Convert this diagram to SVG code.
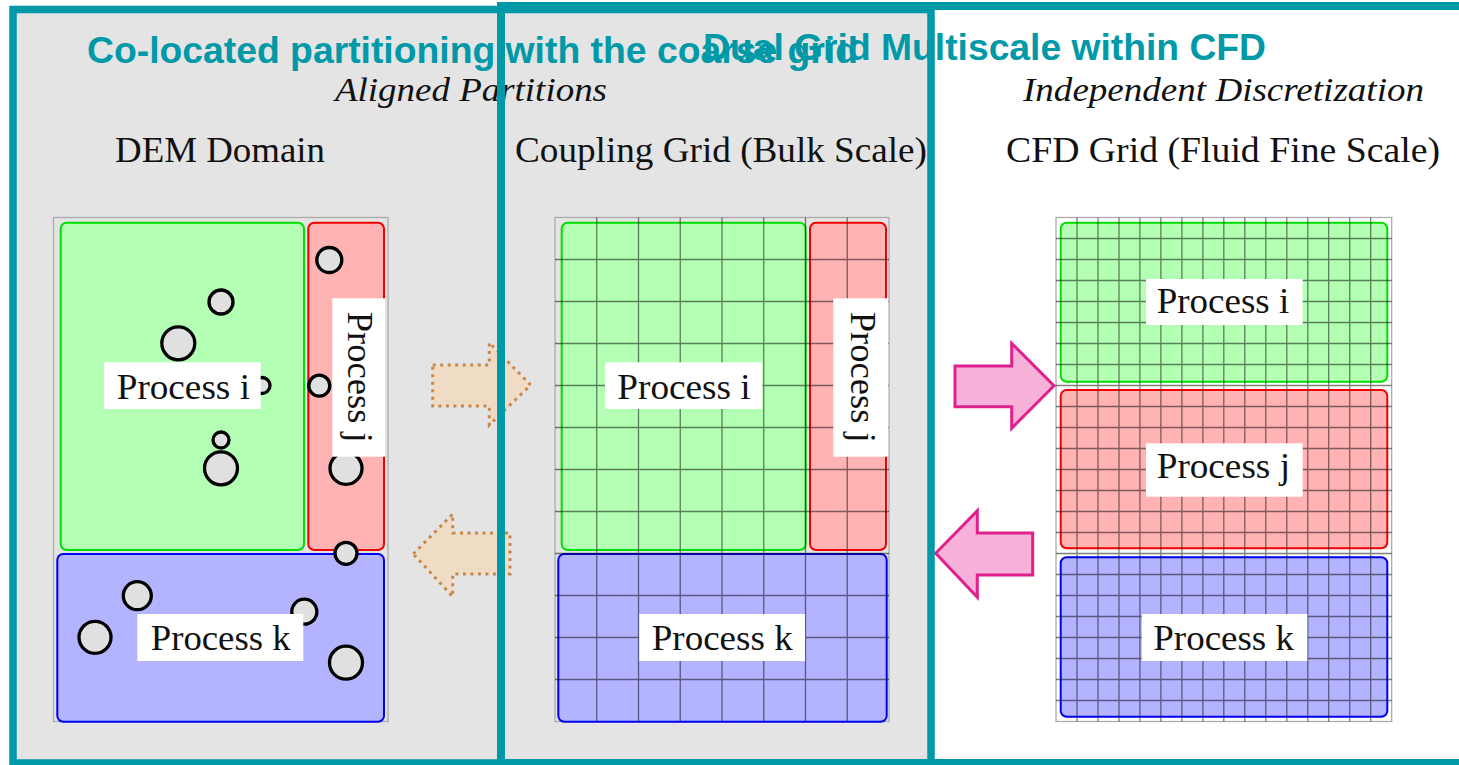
<svg xmlns="http://www.w3.org/2000/svg" width="1459" height="765" viewBox="0 0 1459 765">
<style>
.frame{fill:none;stroke:#0099a8;stroke-width:7.5}
.title{font-family:"Liberation Sans",Arial,sans-serif;font-weight:bold;font-size:37.5px;fill:#0099a8}
.sub{font-family:"Liberation Serif","Times New Roman",serif;font-style:italic;font-size:33px;fill:#111}
.head{font-family:"Liberation Serif","Times New Roman",serif;font-size:35px;fill:#111}
.lbl{font-family:"Liberation Serif","Times New Roman",serif;font-size:36px;fill:#111}
.box{fill:#fff}
.panel{fill:none;stroke:#ababab;stroke-width:1.3}
.grid{fill:none;stroke:#000;stroke-opacity:.5;stroke-width:1.3}
.pg{fill:#b3ffb3;stroke:#00e000;stroke-width:2}
.pr{fill:#ffb3b3;stroke:#f00000;stroke-width:2}
.pb{fill:#b3b3ff;stroke:#0000f0;stroke-width:2}
.particle{fill:#e0e0e0;stroke:#000;stroke-width:3.3}
.tan{fill:#f0dcc4;stroke:#c8874a;stroke-width:3;stroke-dasharray:3 4.5}
.pink{fill:#f7b2d9;stroke:#e0208c;stroke-width:3}
</style>
<rect x="0" y="0" width="1459" height="765" fill="#fff"/>
<g id="frame-colocated-bg">
<rect x="13" y="9.5" width="918" height="753.5" fill="#e4e4e4"/>
</g>

<!-- headings -->
<g id="headings">
<text class="sub" x="335" y="101" textLength="272" lengthAdjust="spacingAndGlyphs">Aligned Partitions</text>
<text class="sub" x="1023" y="101" textLength="401" lengthAdjust="spacingAndGlyphs">Independent Discretization</text>
<text class="head" x="115" y="162" textLength="210" lengthAdjust="spacingAndGlyphs">DEM Domain</text>
<text class="head" x="515" y="162" textLength="412" lengthAdjust="spacingAndGlyphs">Coupling Grid (Bulk Scale)</text>
<text class="head" x="1006" y="162" textLength="434" lengthAdjust="spacingAndGlyphs">CFD Grid (Fluid Fine Scale)</text>
</g>

<!-- DEM panel -->
<g id="dem-domain">
<rect class="panel" x="53.5" y="217.5" width="334.5" height="504"/>
<g id="dem-process-i"><rect class="pg" x="60.7" y="222.7" width="243.3" height="327.3" rx="6"/></g>
<g id="dem-process-j"><rect class="pr" x="308.3" y="222.7" width="75.7" height="327.3" rx="6"/></g>
<g id="dem-process-k"><rect class="pb" x="57.3" y="554" width="326.7" height="167.7" rx="6"/></g>
<g id="dem-particles">
<circle class="particle" cx="329.3" cy="260" r="12.5"/>
<circle class="particle" cx="221" cy="302" r="12"/>
<circle class="particle" cx="178.3" cy="343.3" r="16.5"/>
<circle class="particle" cx="262" cy="385.5" r="8"/>
<circle class="particle" cx="319.3" cy="385.7" r="10.5"/>
<circle class="particle" cx="221" cy="440" r="8"/>
<circle class="particle" cx="221" cy="468.3" r="16.5"/>
<circle class="particle" cx="346" cy="468.3" r="16"/>
<circle class="particle" cx="346" cy="553.3" r="11"/>
<circle class="particle" cx="137.3" cy="595.7" r="14"/>
<circle class="particle" cx="95" cy="637.3" r="16"/>
<circle class="particle" cx="304.3" cy="611.7" r="12.5"/>
<circle class="particle" cx="346" cy="662.7" r="16.5"/>
</g>
<g id="dem-label-i"><rect class="box" x="104" y="362.3" width="156.7" height="46.7"/><text class="lbl" x="116.7" y="399" textLength="133.3" lengthAdjust="spacingAndGlyphs">Process i</text></g>
<g id="dem-label-j"><rect class="box" x="332.3" y="298.3" width="52.7" height="158.4"/><text class="lbl" transform="translate(348.3,311.7) rotate(90)" textLength="131" lengthAdjust="spacingAndGlyphs">Process j</text></g>
<g id="dem-label-k"><rect class="box" x="137.3" y="614" width="166" height="47"/><text class="lbl" x="150.7" y="650" textLength="140" lengthAdjust="spacingAndGlyphs">Process k</text></g>
</g>

<!-- Coupling grid panel -->
<g id="coupling-grid">
<rect class="panel" x="555" y="217.5" width="334" height="504"/>
<g id="cg-process-i"><rect class="pg" x="561.7" y="222.7" width="244" height="327.3" rx="6"/></g>
<g id="cg-process-j"><rect class="pr" x="810" y="222.7" width="76" height="327.3" rx="6"/></g>
<g id="cg-process-k"><rect class="pb" x="558.3" y="554" width="328.4" height="167.7" rx="6"/></g>
<path class="grid" d="M596.75 217.5V721.5M638.5 217.5V721.5M680.25 217.5V721.5M722 217.5V721.5M763.75 217.5V721.5M805.5 217.5V721.5M847.25 217.5V721.5M555 259.5H889M555 301.5H889M555 343.5H889M555 385.5H889M555 427.5H889M555 469.5H889M555 511.5H889M555 553.5H889M555 595.5H889M555 637.5H889M555 679.5H889"/>
<g id="cg-label-i"><rect class="box" x="605" y="362.3" width="157.3" height="46.7"/><text class="lbl" x="617.3" y="399" textLength="133.4" lengthAdjust="spacingAndGlyphs">Process i</text></g>
<g id="cg-label-j"><rect class="box" x="833.3" y="298.3" width="55" height="158.4"/><text class="lbl" transform="translate(850.7,311.7) rotate(90)" textLength="131" lengthAdjust="spacingAndGlyphs">Process j</text></g>
<g id="cg-label-k"><rect class="box" x="639.3" y="614" width="165.7" height="47"/><text class="lbl" x="651.7" y="650" textLength="141" lengthAdjust="spacingAndGlyphs">Process k</text></g>
</g>

<!-- CFD grid panel -->
<g id="cfd-grid">
<rect class="panel" x="1056" y="217.5" width="335.7" height="504"/>
<g id="cfd-process-i"><rect class="pg" x="1060.7" y="222.7" width="326.6" height="159" rx="6"/></g>
<g id="cfd-process-j"><rect class="pr" x="1060.7" y="390" width="326.6" height="158.3" rx="6"/></g>
<g id="cfd-process-k"><rect class="pb" x="1060.7" y="557.3" width="326.6" height="159.4" rx="6"/></g>
<path class="grid" d="M1077 217.5V721.5M1098 217.5V721.5M1119 217.5V721.5M1139.9 217.5V721.5M1160.9 217.5V721.5M1181.9 217.5V721.5M1202.9 217.5V721.5M1223.8 217.5V721.5M1244.8 217.5V721.5M1265.8 217.5V721.5M1286.8 217.5V721.5M1307.8 217.5V721.5M1328.7 217.5V721.5M1349.7 217.5V721.5M1370.7 217.5V721.5M1056 238.5H1391.7M1056 259.5H1391.7M1056 280.5H1391.7M1056 301.5H1391.7M1056 322.5H1391.7M1056 343.5H1391.7M1056 364.5H1391.7M1056 385.5H1391.7M1056 406.5H1391.7M1056 427.5H1391.7M1056 448.5H1391.7M1056 469.5H1391.7M1056 490.5H1391.7M1056 511.5H1391.7M1056 532.5H1391.7M1056 553.5H1391.7M1056 574.5H1391.7M1056 595.5H1391.7M1056 616.5H1391.7M1056 637.5H1391.7M1056 658.5H1391.7M1056 679.5H1391.7M1056 700.5H1391.7"/>
<g id="cfd-label-i"><rect class="box" x="1146" y="279" width="156.7" height="46"/><text class="lbl" x="1156.7" y="313.3" textLength="132.6" lengthAdjust="spacingAndGlyphs">Process i</text></g>
<g id="cfd-label-j"><rect class="box" x="1146" y="443.3" width="156.7" height="53.4"/><text class="lbl" x="1156.7" y="478.3" textLength="133.3" lengthAdjust="spacingAndGlyphs">Process j</text></g>
<g id="cfd-label-k"><rect class="box" x="1141.7" y="614" width="165.6" height="47"/><text class="lbl" x="1153.3" y="650" textLength="140.7" lengthAdjust="spacingAndGlyphs">Process k</text></g>
</g>

<!-- connectors -->
<g id="connectors">
<polygon class="tan" points="432.7,365 489.3,365 489.3,342.7 530.7,385 489.3,425 489.3,406 432.7,406"/>
<polygon class="tan" points="413.3,554 452.7,514 452.7,533 510,533 510,574 452.7,574 452.7,596.7"/>
<polygon class="pink" points="955,366 1011.7,366 1011.7,343.3 1054,385.7 1011.7,428.3 1011.7,406.7 955,406.7"/>
<polygon class="pink" points="935.7,553.3 977.3,510.7 977.3,533 1032.7,533 1032.7,575 977.3,575 977.3,597.3"/>
</g>

<!-- frames -->
<g id="frame-colocated">
<rect class="frame" x="13" y="9.5" width="918" height="753.5"/>
<text class="title" x="87" y="63" textLength="771" lengthAdjust="spacingAndGlyphs">Co-located partitioning with the coarse grid</text>
</g>
<g id="frame-dualgrid">
<rect class="frame" x="501" y="6" width="980" height="757" style="stroke-width:8"/>
<text class="title" x="703" y="60" textLength="563" lengthAdjust="spacingAndGlyphs">Dual Grid Multiscale within CFD</text>
</g>
</svg>
